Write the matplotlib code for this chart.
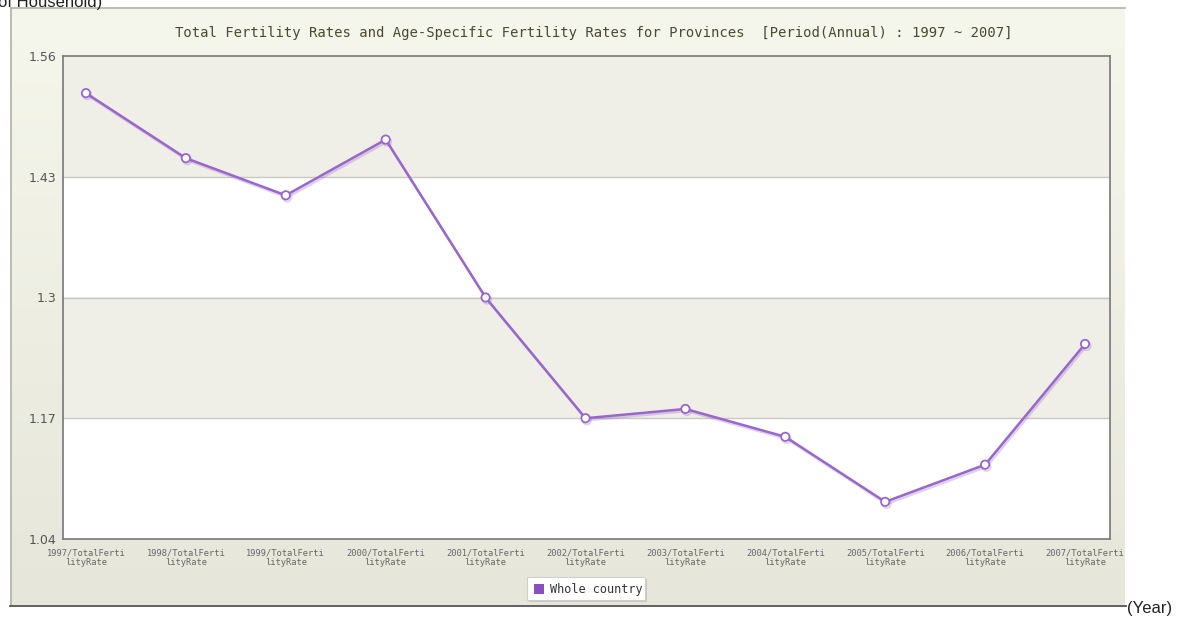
import matplotlib.pyplot as plt
import matplotlib.patheffects as pe
from matplotlib.patches import Rectangle
import numpy as np

years = ['1997', '1998', '1999', '2000', '2001', '2002', '2003', '2004', '2005', '2006', '2007']
tfr = [1.52, 1.45, 1.41, 1.47, 1.30, 1.17, 1.18, 1.15, 1.08, 1.12, 1.25]
yticks = [1.04, 1.17, 1.30, 1.43, 1.56]
ytick_labels = ['1.04', '1.17', '1.3', '1.43', '1.56']
xlabels = [y + '/TotalFerti\nlityRate' for y in years]

W, H = 1186, 619
fig = plt.figure(figsize=(W / 100, H / 100), dpi=100)
fig.patch.set_facecolor('white')

def fx(px):
    return px / W

def fy(py):
    return 1 - py / H

# outer panel with soft vertical gradient
bg = fig.add_axes([fx(11), fy(606), fx(1125 - 11), (606 - 8) / H])
grad = np.linspace(0, 1, 256).reshape(-1, 1)
top = np.array([246, 247, 236]) / 255
bot = np.array([230, 230, 219]) / 255
img = top + (bot - top) * grad[:, :, None]
bg.imshow(img, aspect='auto', extent=[0, 1, 0, 1])
bg.set_xlim(0, 1)
bg.set_ylim(0, 1)
bg.axis('off')

fig.add_artist(plt.Line2D([fx(11), fx(11)], [fy(8), fy(606)], color='#b0b0a8', lw=1.2))
fig.add_artist(plt.Line2D([fx(11), fx(1125)], [fy(8), fy(8)], color='#b0b0a8', lw=1.2))
fig.add_artist(plt.Line2D([fx(10), fx(1126)], [fy(606), fy(606)], color='#555555', lw=1.3))

# plot area
ax = fig.add_axes([fx(63), fy(539), fx(1110 - 63), (539 - 56) / H])
ax.set_ylim(1.04, 1.56)
ax.set_xlim(-0.23, 10.25)
ax.set_facecolor('white')

# alternating bands
for i in range(len(yticks) - 1):
    if i % 2 == 1:
        ax.axhspan(yticks[i], yticks[i + 1], color='#efefe8', zorder=0, lw=0)
for yv in yticks[1:-1]:
    ax.axhline(yv, color='#c8c8c0', lw=1, zorder=1)

x = np.arange(len(years))
ax.plot(x, tfr, color='#9966cc', lw=1.8, zorder=3,
        marker='o', markersize=6, markerfacecolor='white', markeredgecolor='#9966cc',
        markeredgewidth=1.3,
        path_effects=[pe.SimpleLineShadow(offset=(1, -1.5), shadow_color='#9966cc', alpha=0.3),
                      pe.Normal()])

ax.set_yticks(yticks)
ax.set_yticklabels(ytick_labels, fontsize=9, color='#555555')
ax.set_xticks(x)
ax.set_xticklabels(xlabels, fontsize=6.3, color='#666666', family='DejaVu Sans Mono',
                   linespacing=1.05)
ax.tick_params(axis='both', length=0)
ax.tick_params(axis='x', pad=7)
ax.tick_params(axis='y', pad=5)
for s in ax.spines.values():
    s.set_color('#777777')
    s.set_linewidth(1.2)

fig.text(fx(594), fy(33), 'Total Fertility Rates and Age-Specific Fertility Rates for Provinces  '
         '[Period(Annual) : 1997 ~ 2007]', ha='center', va='center', fontsize=10,
         family='DejaVu Sans Mono', color='#4a4a30')

# legend box
fig.patches.append(Rectangle((fx(529), fy(602)), fx(118), 23 / H, transform=fig.transFigure,
                             facecolor='#c8c8c0', edgecolor='none', zorder=4))
fig.patches.append(Rectangle((fx(527), fy(600)), fx(118), 23 / H, transform=fig.transFigure,
                             facecolor='white', edgecolor='#d0d0c8', lw=0.8, zorder=5))
fig.patches.append(Rectangle((fx(534), fy(594)), fx(10), 10 / H, transform=fig.transFigure,
                             facecolor='#8a4fbf', edgecolor='none', zorder=6))
fig.text(fx(550), fy(589), 'Whole country', ha='left', va='center', fontsize=8.5,
         family='DejaVu Sans Mono', color='#333333', zorder=7)

fig.text(fx(-2), fy(2), 'of Household)', ha='left', va='center', fontsize=12,
         family='Liberation Sans', color='#222222')
fig.text(fx(1127), fy(609), '(Year)', ha='left', va='center', fontsize=12,
         family='Liberation Sans', color='#222222')

fig.savefig('out.png', dpi=100, facecolor='white')
